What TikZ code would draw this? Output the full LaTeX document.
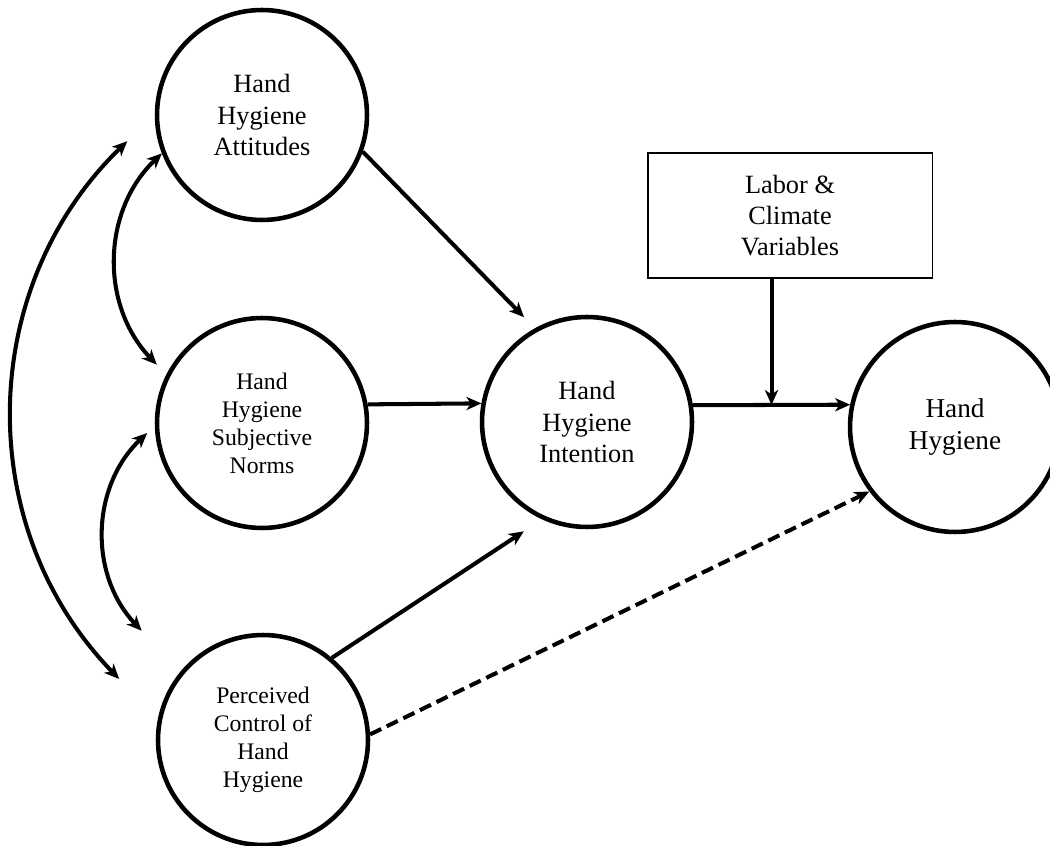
\documentclass[tikz,border=0pt]{standalone}
\usepackage{fontspec}
\setmainfont{Liberation Serif}
\usetikzlibrary{arrows.meta, calc}

\begin{document}
\begin{tikzpicture}[
        x=0.02cm, y=0.02cm,  % one unit is one pixel of the layout
        construct/.style={circle, draw, line width=2.6pt, minimum size=4.2cm, inner sep=0pt, align=center, font=\fontsize{15}{17.8}\selectfont},
        small construct/.style={construct, font=\fontsize{13.5}{15.9}\selectfont},
        factor/.style={rectangle, draw, line width=1.1pt, minimum width=5.7cm, minimum height=2.5cm, align=center, font=\fontsize{15}{17.6}\selectfont},
        effect/.style={draw, line width=2.3pt, -{Stealth[length=8.5pt, width=7.5pt, inset=2.5pt]}},
        covar/.style={effect, {Stealth[length=8.5pt, width=7.5pt, inset=2.5pt]}-{Stealth[length=8.5pt, width=7.5pt, inset=2.5pt]}, bend right=45}
    ]
    \useasboundingbox (0,0) rectangle (1050,845);

    \node[construct] (att) at (262,730) {Hand\\Hygiene\\Attitudes};
    \node[small construct] (sub) at (262,422) {Hand\\Hygiene\\Subjective\\Norms};
    \node[small construct] (per) at (263,105) {Perceived\\Control of\\Hand\\Hygiene};
    \node[construct] (int) at (587,423) {Hand\\Hygiene\\Intention};
    \node[construct, font=\fontsize{15.5}{18.7}\selectfont] (hh) at (955,418) {Hand\\Hygiene};
    \node[factor] (lab) at (790,629.5) {Labor \&\\Climate\\Variables};

    \coordinate (j) at ($(int.9)!.5!(hh.168)$);

    % direct paths
    \draw[effect] (att.-20) -- ([shift={(121:0.3cm)}]int.121);
    \draw[effect] (sub.10) -- (int.170);
    \draw[effect] (per.50) -- ([shift={(240:0.38cm)}]int.240);
    \draw[effect] (int.9) -- (hh.168);
    \draw[effect] (lab.south -| j) -- (j);
    \draw[effect, dash pattern=on 7pt off 3.5pt] (per.3) -- (hh.217);

    % correlations
    \draw[covar] (att.201) to ([shift={(151:0.26cm)}]sub.151);
    \draw[covar] ([shift={(185:0.16cm)}]sub.185) to ([shift={(138:1.12cm)}]per.138);
    \draw[covar] ([shift={(191:0.6cm)}]att.191) to ([shift={(157:0.98cm)}]per.157);
\end{tikzpicture}
\end{document}
